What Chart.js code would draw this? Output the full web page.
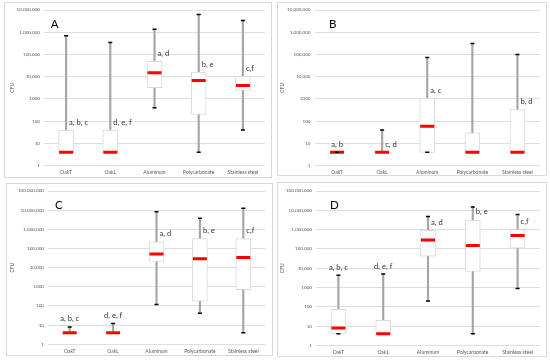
<!DOCTYPE html>
<html>
<head>
<meta charset="utf-8">
<script src="https://cdn.jsdelivr.net/npm/chart.js@4.4.1/dist/chart.umd.min.js"></script>
<style>
  html, body { margin: 0; padding: 0; background: #ffffff; }
  #wrap { position: relative; width: 550px; height: 363px; overflow: hidden; background: #fff; }
  canvas { position: absolute; }
  .frame { position: absolute; border: 1px solid #d9d9d9; box-sizing: border-box; pointer-events: none; }
</style>
</head>
<body>
<div id="wrap">
  <div class="frame" style="left:4px;top:2px;width:268px;height:176px;"></div>
  <div class="frame" style="left:277px;top:2px;width:270px;height:174px;"></div>
  <div class="frame" style="left:6px;top:183px;width:267px;height:173px;"></div>
  <div class="frame" style="left:277px;top:182px;width:270px;height:175px;"></div>
  <canvas id="cA" width="275" height="181" style="left:0;top:0;"></canvas>
  <canvas id="cB" width="275" height="181" style="left:275px;top:0;"></canvas>
  <canvas id="cC" width="275" height="182" style="left:0;top:181px;"></canvas>
  <canvas id="cD" width="275" height="182" style="left:275px;top:181px;"></canvas>
</div>
<script>
// ---------- DATA ----------
const categories = ['OakT', 'OakL', 'Aluminum', 'Polycarbonate', 'Stainless steel'];

const tickValues7 = [1, 10, 100, 1000, 10000, 100000, 1000000, 10000000];
const tickLabels7 = ['1', '10', '100', '1000', '10,000', '100,000', '1,000,000', '10,000,000'];
const tickValues8 = [1, 10, 100, 1000, 10000, 100000, 1000000, 10000000, 100000000];
const tickLabels8 = ['1', '10', '100', '1000', '10,000', '100,000', '1,000,000', '10,000,000', '100,000,000'];

// Panel A
const minA = [4, 4, 400, 4, 40];
const q1A  = [4, 4, 3200, 200, 2400];
const medA = [4, 4, 15000, 6700, 4000];
const q3A  = [40, 40, 49000, 16000, 10500];
const maxA = [700000, 350000, 1350000, 6300000, 3400000];
const lettersA = ['a, b, c', 'd, e, f', 'a, d', 'b, e', 'c,f'];

// Panel B
const minB = [4, 4, 4, 4, 4];
const q1B  = [4, 4, 4, 4, 4];
const medB = [4, 4, 60, 4, 4];
const q3B  = [4, 4, 1100, 30, 330];
const maxB = [4, 40, 74000, 310000, 100000];
const lettersB = ['a, b', 'c, d', 'a, c', '', 'b, d'];

// Panel C
const minC = [4, 4, 120, 42, 4];
const q1C  = [4, 4, 21000, 180, 700];
const medC = [4, 4, 51000, 29000, 34000];
const q3C  = [4, 4, 220000, 325000, 330000];
const maxC = [8, 12, 8300000, 3800000, 12500000];
const lettersC = ['a, b, c', 'd, e, f', 'a, d', 'b, e', 'c,f'];

// Panel D
const minD = [4, 4, 200, 4, 900];
const q1D  = [4, 4, 42000, 6900, 110000];
const medD = [8, 4, 290000, 150000, 500000];
const q3D  = [75, 20, 910000, 3150000, 1000000];
const maxD = [4400, 5000, 4800000, 15000000, 6000000];
const lettersD = ['a, b, c', 'd, e, f', 'a, d', 'b, e', 'c,f'];

// ---------- DRAWING ----------
const annotPlugin = {
  id: 'boxAnnot',
  afterDatasetsDraw(chart) {
    const o = chart.options.plugins.boxAnnot;
    const ctx = chart.ctx;
    const xs = chart.scales.x, ys = chart.scales.y;
    const ca = chart.chartArea;
    ctx.save();
    ctx.fillStyle = '#333333';
    ctx.font = '7.6px Lato';
    ctx.textBaseline = 'middle';
    o.letters.forEach((t, i) => {
      if (!t) return;
      const cx = xs.getPixelForValue(i);
      if (o.placement[i] === 'top') {
        ctx.textAlign = 'center';
        ctx.fillText(t, cx, ys.getPixelForValue(o.max[i]) - 8);
      } else {
        ctx.textAlign = 'left';
        ctx.fillText(t, cx + 3, ys.getPixelForValue(o.q3[i]) - 8);
      }
    });
    ctx.font = '11.5px Lato';
    ctx.fillStyle = '#000000';
    ctx.textAlign = 'left';
    ctx.textBaseline = 'alphabetic';
    ctx.fillText(o.panel, ca.left + o.panelDX, ca.top + o.panelDY);
    ctx.restore();
  }
};

function makePanel(id, p) {
  new Chart(document.getElementById(id), {
    type: 'bar',
    data: {
      labels: categories,
      datasets: [
        { type: 'bar', data: p.min.map((v, i) => [v, p.max[i]]), backgroundColor: '#a6a6a6',
          borderWidth: 0, barThickness: 1.5, grouped: false, order: 4 },
        { type: 'bar', data: p.q1.map((v, i) => [v, p.q3[i]]), backgroundColor: '#ffffff',
          borderColor: '#d9d9d9', borderWidth: 1, borderSkipped: false, barThickness: 15, grouped: false, order: 3 },
        { type: 'line', data: p.min, showLine: false, pointStyle: 'line', pointRadius: 2,
          pointBorderColor: '#000000', pointBorderWidth: 1.5, borderColor: '#000000', order: 2 },
        { type: 'line', data: p.med, showLine: false, pointStyle: 'line', pointRadius: 7,
          pointBorderColor: '#ff0000', pointBorderWidth: 3, borderColor: '#ff0000', order: 1 },
        { type: 'line', data: p.max, showLine: false, pointStyle: 'line', pointRadius: 2,
          pointBorderColor: '#000000', pointBorderWidth: 1.5, borderColor: '#000000', order: 0 }
      ]
    },
    options: {
      responsive: false,
      animation: false,
      devicePixelRatio: 1,
      layout: { padding: { left: 0, top: p.padTop, right: p.padRight, bottom: 0 } },
      plugins: {
        legend: { display: false },
        tooltip: { enabled: false },
        boxAnnot: { letters: p.letters, placement: p.placement, q3: p.q3, max: p.max,
                    panel: p.panel, panelDX: p.panelDX, panelDY: p.panelDY }
      },
      scales: {
        x: {
          type: 'category',
          offset: true,
          grid: { display: false, drawTicks: false },
          border: { display: false },
          ticks: { color: '#595959', font: { family: 'Lato', size: 5 }, padding: 4, maxRotation: 0, autoSkip: false },
          afterFit: s => { s.height = p.xH; }
        },
        y: {
          type: 'logarithmic',
          min: p.tickValues[0],
          max: p.tickValues[p.tickValues.length - 1],
          grid: { color: '#dedede', lineWidth: 1, drawTicks: false },
          border: { display: false },
          title: { display: true, text: 'CFU', color: '#595959', font: { family: 'Lato', size: 5 },
                   padding: { top: p.titlePad, bottom: 0 } },
          afterBuildTicks: s => { s.ticks = p.tickValues.map(v => ({ value: v })); },
          ticks: { color: '#595959', font: { family: 'Lato', size: 4.6 }, padding: 4,
                   callback: (v, i) => p.tickLabels[i] },
          afterFit: s => { s.width = p.yW; }
        }
      }
    },
    plugins: [annotPlugin]
  });
}

makePanel('cA', { min: minA, q1: q1A, med: medA, q3: q3A, max: maxA, letters: lettersA,
  placement: ['side', 'side', 'side', 'side', 'side'], tickValues: tickValues7, tickLabels: tickLabels7,
  panel: 'A', panelDX: 6.7, panelDY: 18.3, padTop: 9, padRight: 7, yW: 44, xH: 15.3, titlePad: 9.7 });
makePanel('cB', { min: minB, q1: q1B, med: medB, q3: q3B, max: maxB, letters: lettersB,
  placement: ['top', 'side', 'side', 'side', 'side'], tickValues: tickValues7, tickLabels: tickLabels7,
  panel: 'B', panelDX: 14.5, panelDY: 18, padTop: 9, padRight: 6.5, yW: 39.5, xH: 15.3, titlePad: 4.7 });
makePanel('cC', { min: minC, q1: q1C, med: medC, q3: q3C, max: maxC, letters: lettersC,
  placement: ['top', 'top', 'side', 'side', 'side'], tickValues: tickValues8, tickLabels: tickLabels8,
  panel: 'C', panelDX: 7, panelDY: 18.3, padTop: 3.7, padRight: 8, yW: 48, xH: 18.7, titlePad: 9.7 });
makePanel('cD', { min: minD, q1: q1D, med: medD, q3: q3D, max: maxD, letters: lettersD,
  placement: ['top', 'top', 'side', 'side', 'side'], tickValues: tickValues8, tickLabels: tickLabels8,
  panel: 'D', panelDX: 14, panelDY: 18, padTop: 5, padRight: 8.7, yW: 41, xH: 17.5, titlePad: 4.7 });
</script>
</body>
</html>
